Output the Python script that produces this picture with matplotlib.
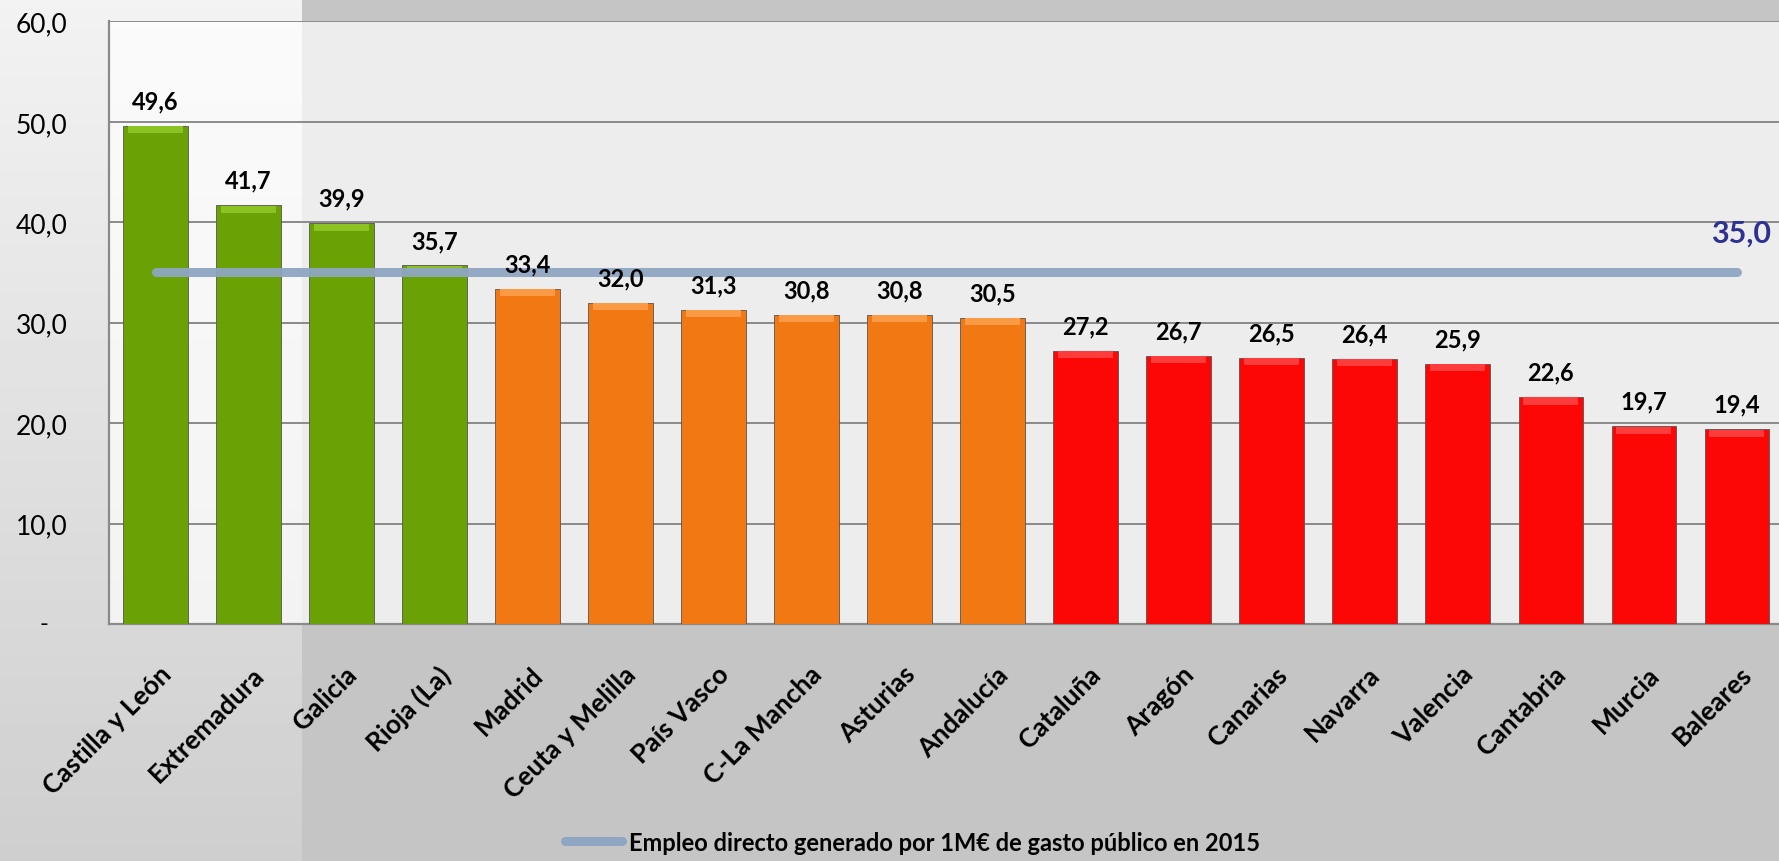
import numpy as np
import matplotlib.pyplot as plt
import matplotlib.transforms as mtransforms
from matplotlib.lines import Line2D

regiones = ["Castilla y León", "Extremadura", "Galicia", "Rioja (La)", "Madrid",
            "Ceuta y Melilla", "País Vasco", "C-La Mancha", "Asturias", "Andalucía",
            "Cataluña", "Aragón", "Canarias", "Navarra", "Valencia", "Cantabria",
            "Murcia", "Baleares"]
empleo = [49.6, 41.7, 39.9, 35.7, 33.4, 32.0, 31.3, 30.8, 30.8, 30.5,
          27.2, 26.7, 26.5, 26.4, 25.9, 22.6, 19.7, 19.4]
grupo = ["verde"] * 4 + ["naranja"] * 6 + ["rojo"] * 8
media = 35.0
y_ticks = [0, 10, 20, 30, 40, 50, 60]
leyenda = "Empleo directo generado por 1M€ de gasto público en 2015"

colores = {"verde": "#6aa104", "naranja": "#f27813", "rojo": "#fc0606"}
brillo = {"verde": "#8cc323", "naranja": "#fb9a45", "rojo": "#ff3c3c"}

plt.rcParams['font.family'] = ['Lato', 'DejaVu Sans']

fig = plt.figure(figsize=(17.79, 8.62), dpi=100)

# fondo gris con franja clara a la izquierda
bg = fig.add_axes([0, 0, 1, 1], zorder=-10)
bg.set_axis_off()
w, h = 400, 200
xx = np.linspace(0, 1, w)
yy = np.linspace(0, 1, h)[:, None]
img = np.full((h, w), 0.77)
izq = xx < 0.169
img[:, izq] = 0.95 - 0.14 * yy * np.ones((1, izq.sum()))
bg.imshow(img, cmap='gray', vmin=0, vmax=1, aspect='auto', extent=(0, 1, 1, 0))
bg.set_xlim(0, 1)
bg.set_ylim(1, 0)

ax = fig.add_axes([0.0613, 0.275, 0.941, 0.699])
ax.set_facecolor((1, 1, 1, 0.7))

x = np.arange(len(regiones))
cols = [colores[g] for g in grupo]
ax.bar(x, empleo, width=0.69, color=cols, edgecolor='#555555', linewidth=0.6, zorder=3)
# bisel superior
ax.bar(x, [0.7] * len(x), bottom=[v - 0.75 for v in empleo], width=0.6,
       color=[brillo[g] for g in grupo], linewidth=0, zorder=4)

for xi, v in zip(x, empleo):
    ax.annotate(f"{v:.1f}".replace(".", ","), (xi, v), xytext=(0, 18),
                textcoords='offset points', ha='center', va='center',
                fontsize=17, fontweight='bold', color='black', zorder=6)

ax.plot([x[0], x[-1]], [media, media], color='#8fa6c2', lw=6.5,
        solid_capstyle='round', alpha=0.95, zorder=5)
ax.text(x[-1] + 0.37, media + 4.0, f"{media:.1f}".replace(".", ","), color='#2e3192',
        fontsize=22, fontweight='bold', ha='right', va='center', zorder=6)

ax.set_xlim(-0.5, len(regiones) - 0.5)
ax.set_ylim(0, 60)
ax.set_yticks(y_ticks)
ax.set_yticklabels([""] + [f"{t:.1f}".replace(".", ",") for t in y_ticks[1:]],
                   fontsize=19)
ax.annotate("-", xy=(0, 0), xycoords=('axes fraction', 'data'), xytext=(-47, 0),
            textcoords='offset points', ha='center', va='center', fontsize=17)
ax.tick_params(axis='y', length=0, pad=30)
ax.yaxis.grid(True, color='#8a8a8a', lw=1.4, zorder=1)
ax.set_axisbelow(True)

ax.set_xticks(x)
ax.set_xticklabels(regiones, rotation=45, ha='right', rotation_mode='anchor',
                   fontsize=19, fontweight='bold')
ax.tick_params(axis='x', length=0, pad=27)
off = mtransforms.ScaledTranslation(3 / 100, 0, fig.dpi_scale_trans)
for lab in ax.get_xticklabels():
    lab.set_transform(lab.get_transform() + off)

for s in ['top', 'right']:
    ax.spines[s].set_visible(False)
for s in ['left', 'bottom']:
    ax.spines[s].set_color('#8a8a8a')
    ax.spines[s].set_linewidth(1.6)

handle = Line2D([], [], color='#8fa6c2', lw=6.5, solid_capstyle='round')
fig.legend([handle], [leyenda], loc='center', bbox_to_anchor=(0.513, 0.022),
           frameon=False, handlelength=2.4, handletextpad=0.3,
           prop={'size': 17, 'weight': 'bold'})

fig.savefig("out.png", dpi=100)
